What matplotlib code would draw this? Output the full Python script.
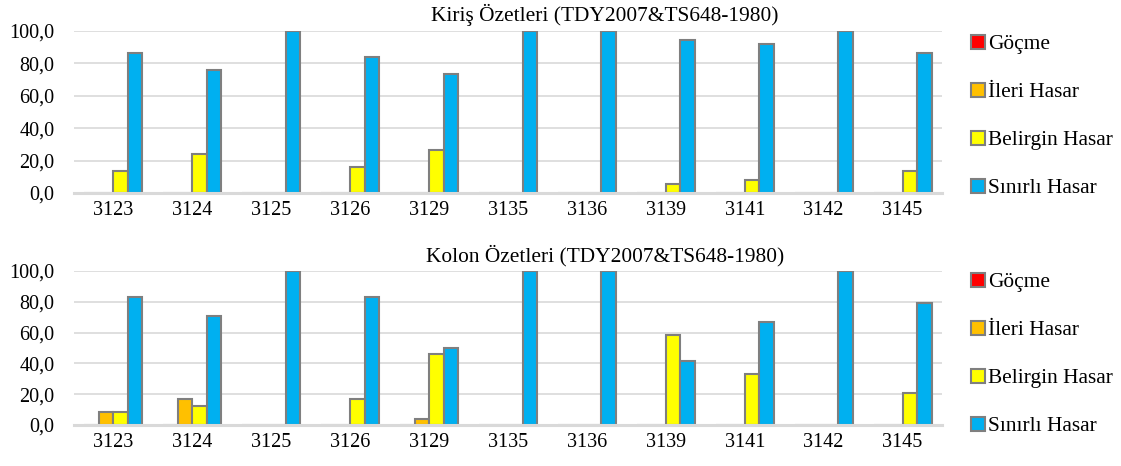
import matplotlib.pyplot as plt
import numpy as np
from matplotlib.ticker import FuncFormatter

plt.rcParams['font.family'] = ['Liberation Serif', 'DejaVu Serif']

binalar = ["3123", "3124", "3125", "3126", "3129", "3135", "3136", "3139", "3141", "3142", "3145"]
seriler = ["Göçme", "İleri Hasar", "Belirgin Hasar", "Sınırlı Hasar"]
renkler = ["#FF0000", "#FFC000", "#FFFF00", "#00B0F0"]

# Kiriş yüzdeleri
kiris_gocme = [0, 0, 0, 0, 0, 0, 0, 0, 0, 0, 0]
kiris_ileri = [0, 0, 0, 0, 0, 0, 0, 0, 0, 0, 0]
kiris_belirgin = [13.3, 23.8, 0, 15.8, 26.3, 0, 0, 5.3, 7.9, 0, 13.3]
kiris_sinirli = [86.7, 76.2, 100, 84.2, 73.7, 100, 100, 94.7, 92.1, 100, 86.7]

# Kolon yüzdeleri
kolon_gocme = [0, 0, 0, 0, 0, 0, 0, 0, 0, 0, 0]
kolon_ileri = [8.3, 16.7, 0, 0, 4.2, 0, 0, 0, 0, 0, 0]
kolon_belirgin = [8.3, 12.5, 0, 16.7, 45.8, 0, 0, 58.3, 33.3, 0, 20.8]
kolon_sinirli = [83.3, 70.8, 100, 83.3, 50.0, 100, 100, 41.7, 66.7, 100, 79.2]

fig = plt.figure(figsize=(11.21, 4.66), dpi=100)

W, H = 1121, 466
ax1 = fig.add_axes([74 / W, 1 - 193 / H, 868 / W, 162 / H])
ax2 = fig.add_axes([74 / W, 1 - 425 / H, 868 / W, 154 / H])

x = np.arange(len(binalar))
genislik = 0.184


def ciz(ax, veriler, baslik, legend_y):
    for i, (deger, renk, ad) in enumerate(zip(veriler, renkler, seriler)):
        ax.bar(x + (i - 1.5) * genislik, deger, genislik, color=renk,
               edgecolor="#7F7F7F", linewidth=1.5, label=ad, zorder=3)
    ax.set_xlim(-0.5, len(binalar) - 0.5)
    ax.set_ylim(0, 100)
    ax.set_yticks(np.arange(0, 101, 20))
    ax.yaxis.set_major_formatter(FuncFormatter(lambda v, p: f"{v:.1f}".replace(".", ",")))
    ax.set_xticks(x)
    ax.set_xticklabels(binalar)
    ax.tick_params(axis="both", length=0, labelsize=14.5)
    ax.tick_params(axis="x", pad=6)
    ax.tick_params(axis="y", pad=14)
    ax.grid(axis="y", color="#D9D9D9", linewidth=1.2, zorder=0)
    for s in ["top", "right", "left"]:
        ax.spines[s].set_visible(False)
    ax.spines["bottom"].set_color("#D9D9D9")
    ax.spines["bottom"].set_linewidth(2.2)
    ax.spines["bottom"].set_zorder(4)
    ax.set_title(baslik, fontsize=15.4, x=0.612, pad=7)
    ax.legend(loc="upper left", bbox_to_anchor=(1.024, legend_y), frameon=False,
              fontsize=15.4, handlelength=0.62, handleheight=0.62,
              handletextpad=0.15, labelspacing=1.33, borderaxespad=0)


ciz(ax1, [kiris_gocme, kiris_ileri, kiris_belirgin, kiris_sinirli],
    "Kiriş Özetleri (TDY2007&TS648-1980)", 1.028)
ciz(ax2, [kolon_gocme, kolon_ileri, kolon_belirgin, kolon_sinirli],
    "Kolon Özetleri (TDY2007&TS648-1980)", 1.043)

plt.savefig("out.png", dpi=100)
